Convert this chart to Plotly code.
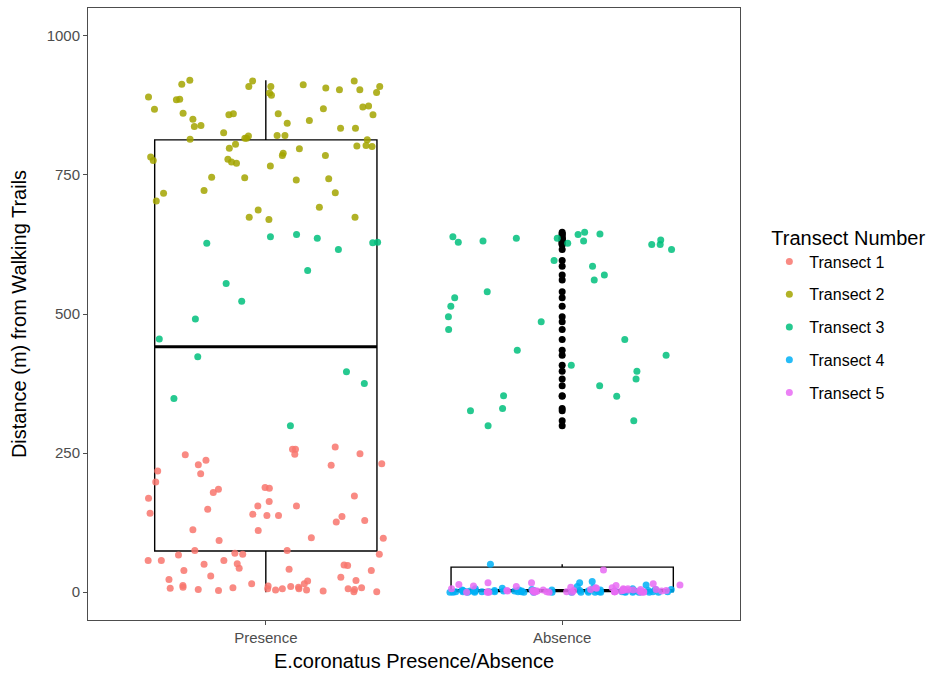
import numpy as np
import plotly.graph_objects as go

# ---- data -------------------------------------------------------------
categories = ["Presence", "Absence"]
transects = ["Transect 1", "Transect 2", "Transect 3", "Transect 4", "Transect 5"]
colors = ["#F8766D", "#A3A500", "#00BF7D", "#00B0F6", "#E76BF3"]

# distances (m) from walking trails where E.coronatus was present
presence_t1 = [257, 249, 228, 213, 185, 173, 169, 136, 126, 111, 93, 179, 149, 140,
               138, 138, 97, 261, 248, 231, 229, 247, 257, 218, 198, 187, 155, 129,
               155, 163, 188, 237, 142, 112, 98, 75, 70, 57, 49, 39, 29, 21, 11, 6,
               6, 2, 23, 4, 6, 1, 8, 41, 57, 43, 57, 12, 27, 51, 68, 75, 10, 9, 20,
               9, 15, 50, 68, 7, 1, 5, 4, 3, 5, 15, 67, 48, 39, 8, 6]
presence_t2 = [913, 850, 813, 860, 814, 802, 797, 785, 771, 745, 722, 703, 674, 687,
               821, 826, 785, 776, 805, 868, 885, 898, 912, 909, 893, 919, 858, 843,
               848, 773, 766, 743, 872, 861, 874, 890, 906, 903, 886, 816, 834, 782,
               741, 718, 670, 692, 839, 837, 860, 920, 798, 801, 789, 778, 746, 858,
               919, 909, 897, 909, 903, 869, 821, 820, 834, 816, 803, 717, 674]
presence_t3 = [639, 628, 627, 616, 578, 636, 643, 629, 555, 523, 491, 455, 423, 375,
               396, 348, 299]

# distances (m) from walking trails where E.coronatus was absent
absence_t3 = [636, 647, 644, 636, 616, 596, 586, 561, 540, 629, 486, 454, 397, 352,
              326, 625, 308, 625, 627, 633, 529, 514, 495, 353, 330, 299, 643, 639,
              631, 631, 570, 472, 435, 426, 408, 383, 371]
absence_t4 = [0, 1, 3, 0, 2, 5, 13, 1, 0, 4, 2, 19, 0, 1, 3, 6, 2, 0, 1, 50, 17, 0,
              2, 1, 4, 8, 0, 3, 1, 2, 0, 5, 1, 0, 2, 3, 10, 1, 0, 2, 4, 1, 0, 3, 6,
              0, 1, 2, 5, 0, 1, 7, 2, 0, 3, 1, 0, 2, 4, 1, 0, 3, 2, 1, 0]
absence_t5 = [2, 10, 0, 5, 17, 1, 15, 3, 8, 0, 12, 4, 2, 40, 17, 14, 1, 6, 0, 3, 9,
              2, 5, 11, 0, 4, 7, 1, 13, 3, 0, 6, 2, 8, 1, 5, 3, 1, 0, 2, 4, 6, 1,
              0, 2, 3, 1, 0, 5, 2, 1]

# box summary statistics per category (Presence, Absence)
box_lower = [0, 0]
box_q1 = [74, 1]
box_median = [441, 3]
box_q3 = [813, 45]
box_upper = [920, 50]

groups = {
    "Presence": [presence_t1, presence_t2, presence_t3, [], []],
    "Absence": [[], [], absence_t3, absence_t4, absence_t5],
}

# ---- figure -----------------------------------------------------------
cat_pos = {c: i + 1 for i, c in enumerate(categories)}
box_w = 0.75
fig = go.Figure()

fig.add_trace(go.Box(
    x=[cat_pos[c] for c in categories],
    q1=box_q1, median=box_median, q3=box_q3,
    lowerfence=box_lower, upperfence=box_upper,
    width=box_w, whiskerwidth=0, boxpoints=False,
    line=dict(color="black", width=1.4),
    fillcolor="rgba(255,255,255,0)",
    showlegend=False, hoverinfo="skip",
))

# thicker median bars, as in a ggplot boxplot
for c, med in zip(categories, box_median):
    p = cat_pos[c]
    fig.add_trace(go.Scatter(
        x=[p - box_w / 2, p + box_w / 2], y=[med, med], mode="lines",
        line=dict(color="black", width=3), showlegend=False, hoverinfo="skip",
    ))

# boxplot outliers: values beyond the upper whisker
for c, upper in zip(categories, box_upper):
    vals = [v for series in groups[c] for v in series if v > upper]
    if vals:
        fig.add_trace(go.Scatter(
            x=[cat_pos[c]] * len(vals), y=vals, mode="markers",
            marker=dict(color="black", size=7),
            showlegend=False, hoverinfo="skip",
        ))

# jittered observations, coloured by transect
rng = np.random.default_rng(7)
for ti, (name, col) in enumerate(zip(transects, colors)):
    xs, ys = [], []
    for c in categories:
        vals = groups[c][ti]
        xs.extend(cat_pos[c] + rng.uniform(-0.4, 0.4, len(vals)))
        ys.extend(vals)
    fig.add_trace(go.Scatter(
        x=xs, y=ys, mode="markers", name=name, legendgroup=name,
        marker=dict(color=col, size=7, opacity=0.85),
    ))

axis_common = dict(
    showgrid=False, zeroline=False, showline=True, mirror=True,
    linecolor="#4D4D4D", linewidth=1, ticks="outside", ticklen=4,
    tickcolor="#4D4D4D", tickfont=dict(size=15, color="#4D4D4D"),
)
fig.update_xaxes(
    range=[0.4, 2.6], tickvals=[cat_pos[c] for c in categories], ticktext=categories,
    title=dict(text="E.coronatus Presence/Absence", font=dict(size=20, color="black"),
               standoff=8),
    **axis_common,
)
fig.update_yaxes(
    range=[-50, 1050], tickvals=[0, 250, 500, 750, 1000],
    title=dict(text="Distance (m) from Walking Trails", font=dict(size=20, color="black"),
               standoff=14),
    **axis_common,
)

fig.update_layout(
    width=939, height=677,
    margin=dict(l=88, r=199, t=8, b=57),
    plot_bgcolor="white", paper_bgcolor="white",
    font=dict(family="Liberation Sans, Arial, sans-serif"),
    legend=dict(
        title=dict(text="Transect Number", font=dict(size=20, color="black")),
        font=dict(size=16, color="black"),
        x=1.045, xanchor="left", y=0.50, yanchor="middle",
        tracegroupgap=9, itemsizing="trace",
    ),
)

fig.write_html("out.html")
